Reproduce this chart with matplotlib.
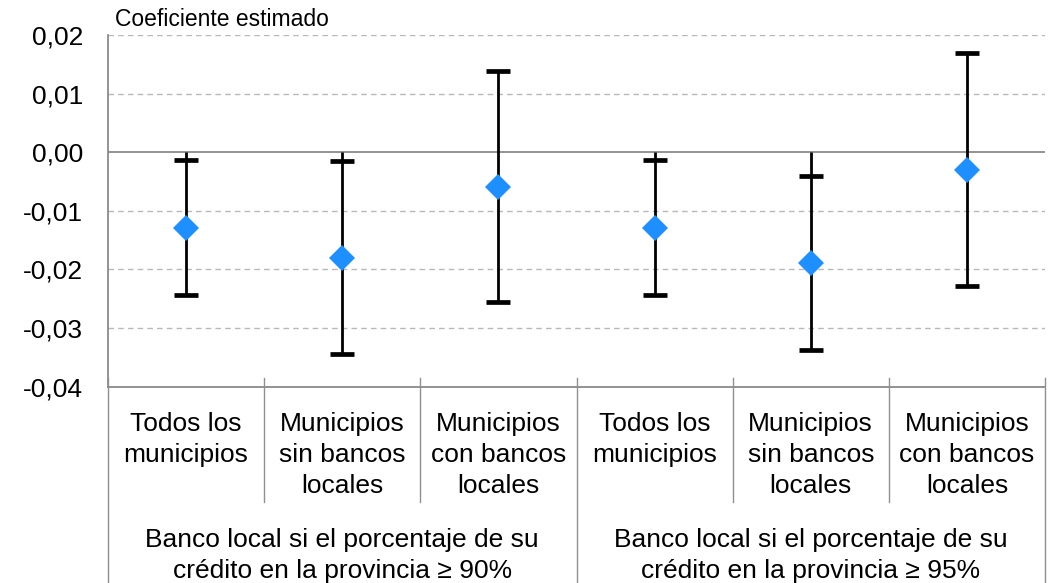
import matplotlib.pyplot as plt
from matplotlib.lines import Line2D

plt.rcParams['font.family'] = ['Liberation Sans', 'DejaVu Sans']

# data
categorias = ['Todos los\nmunicipios', 'Municipios\nsin bancos\nlocales', 'Municipios\ncon bancos\nlocales',
              'Todos los\nmunicipios', 'Municipios\nsin bancos\nlocales', 'Municipios\ncon bancos\nlocales']
grupos = ['Banco local si el porcentaje de su\ncrédito en la provincia ≥ 90%',
          'Banco local si el porcentaje de su\ncrédito en la provincia ≥ 95%']
coef = [-0.013, -0.018, -0.006, -0.013, -0.019, -0.003]
ic_sup = [-0.0014, -0.0015, 0.0138, -0.0014, -0.0041, 0.0169]
ic_inf = [-0.0244, -0.0345, -0.0256, -0.0244, -0.0338, -0.0229]
yticks = [0.02, 0.01, 0.0, -0.01, -0.02, -0.03, -0.04]

W, H = 1056, 583
fig = plt.figure(figsize=(W / 100, H / 100), dpi=100)
L, R, T, B = 108, 1045, 35, 386.5
ax = fig.add_axes([L / W, 1 - B / H, (R - L) / W, (B - T) / H])

x = list(range(len(coef)))
ax.set_xlim(-0.5, len(coef) - 0.5)
ax.set_ylim(-0.04, 0.02)

for yv in yticks:
    if yv == 0:
        ax.axhline(0, color='#808080', lw=1.2, zorder=1)
    else:
        ax.axhline(yv, color='#b8b8b8', lw=1.0, ls=(0, (4, 3)), zorder=1)

# high-low lines (from zero) and caps
for xi, c, hi, lo in zip(x, coef, ic_sup, ic_inf):
    ax.vlines(xi, min(lo, 0), max(hi, 0), color='black', lw=2.0, zorder=2)
    ax.hlines([hi, lo], xi - 0.077, xi + 0.077, color='black', lw=3.4, zorder=3)
ax.plot(x, coef, 'D', color='#1e8fff', markersize=13, markeredgewidth=0, zorder=4)

ax.set_yticks(yticks)
ax.set_yticklabels([f'{v:.2f}'.replace('.', ',').replace('-0,00', '0,00') for v in yticks], fontsize=19)
ax.tick_params(axis='y', length=0, pad=18)
ax.set_xticks([])
for s in ['top', 'right']:
    ax.spines[s].set_visible(False)
ax.spines['left'].set_color('#808080')
ax.spines['bottom'].set_color('#808080')
ax.spines['left'].set_linewidth(1.2)
ax.spines['bottom'].set_linewidth(1.2)

fig.text(115 / W, 1 - 20 / H, 'Coeficiente estimado', fontsize=16.5, va='center', ha='left')

# category labels
step = (R - L) / len(categorias)
for i, lab in enumerate(categorias):
    cx = L + step * (i + 0.5)
    fig.text(cx / W, 1 - 412 / H, lab, fontsize=19, ha='center', va='top', linespacing=1.36)
for j, g in enumerate(grupos):
    cx = L + step * (3 * j + 1.5)
    fig.text(cx / W, 1 - 528 / H, g, fontsize=19, ha='center', va='top', linespacing=1.36)

# separators
for i in range(len(categorias) + 1):
    xs = L + step * i
    y_end = H if i % 3 == 0 else 502
    fig.add_artist(Line2D([xs / W, xs / W], [1 - 378 / H, 1 - y_end / H], color='#909090', lw=1.0))

fig.savefig('out.png', dpi=100)
